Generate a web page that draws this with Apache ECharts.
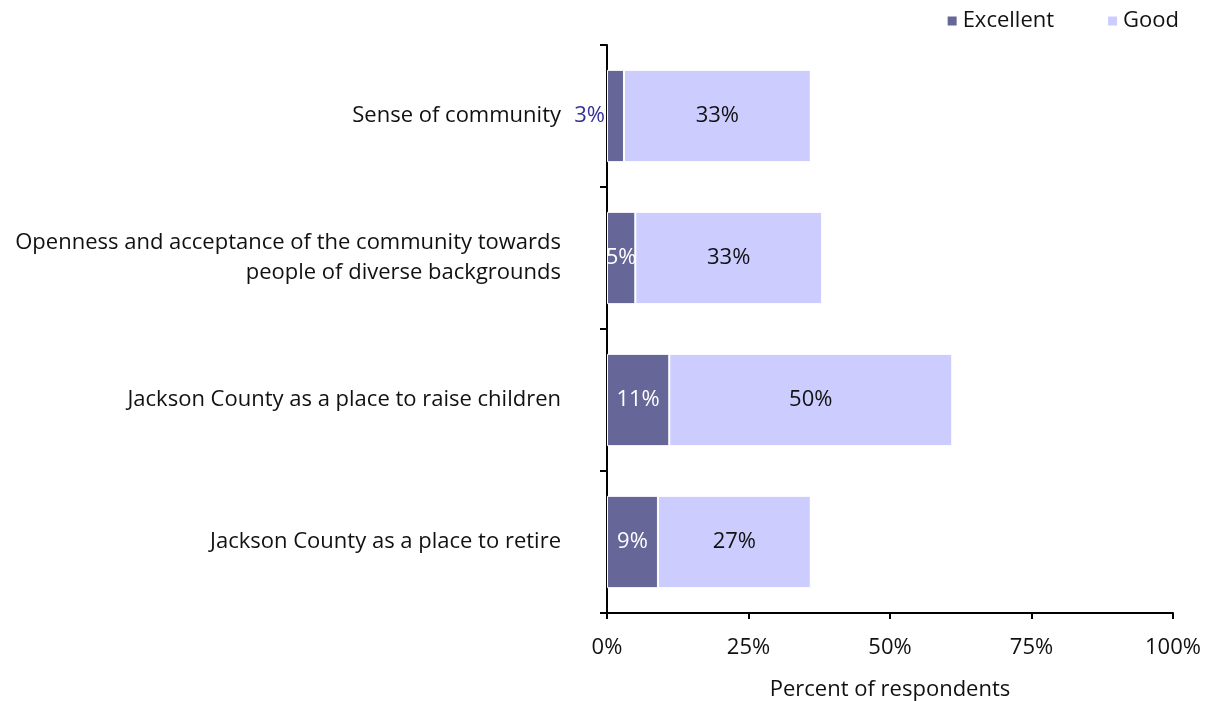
<!DOCTYPE html>
<html>
<head>
<meta charset="utf-8">
<script src="https://cdn.jsdelivr.net/npm/echarts@6/dist/echarts.min.js"></script>
<style>
  html, body { margin: 0; padding: 0; background: #fff; }
  #chart { width: 1213px; height: 701px; }
</style>
</head>
<body>
<div id="chart"></div>
<script>
// Survey ratings, top to bottom
const categories = [
  'Sense of community',
  'Openness and acceptance of the community towards\npeople of diverse backgrounds',
  'Jackson County as a place to raise children',
  'Jackson County as a place to retire'
];
const excellent = [3, 5, 11, 9];
const good = [33, 33, 50, 27];
const xTicks = [0, 25, 50, 75, 100];

const FONT = '"Open Sans", "DejaVu Sans", sans-serif';

const chart = echarts.init(document.getElementById('chart'));

// Small excellent shares get their label placed outside, left of the axis
const excellentData = excellent.map(v => {
  if (v < 4) {
    return { value: v, label: { position: 'left', color: '#333399', distance: 2 } };
  }
  return v;
});

chart.setOption({
  animation: false,
  textStyle: { fontFamily: FONT },
  legend: {
    top: 5,
    right: 29,
    itemWidth: 11,
    itemHeight: 11,
    itemGap: 52,
    icon: 'rect',
    textStyle: { fontSize: 22, color: '#111', fontFamily: FONT },
    data: ['Excellent', 'Good']
  },
  grid: {
    left: 607, right: 40, top: 45, bottom: 88,
    containLabel: false,
    outerBoundsMode: 'none'
  },
  xAxis: {
    type: 'value',
    min: 0,
    max: 100,
    interval: 25,
    name: 'Percent of respondents',
    nameLocation: 'middle',
    nameGap: 66,
    nameTextStyle: { fontSize: 22, color: '#111', fontFamily: FONT },
    axisLine: { show: true, lineStyle: { color: '#000', width: 2 } },
    axisTick: { show: true, length: 6, lineStyle: { color: '#000', width: 2 } },
    axisLabel: {
      fontSize: 22, color: '#111', margin: 24, fontFamily: FONT,
      formatter: v => xTicks.includes(v) ? v + '%' : ''
    },
    splitLine: { show: false }
  },
  yAxis: {
    type: 'category',
    inverse: true,
    data: categories,
    axisLine: { show: true, lineStyle: { color: '#000', width: 2 } },
    axisTick: { show: true, length: 7, lineStyle: { color: '#000', width: 2 } },
    axisLabel: {
      fontSize: 22, color: '#111', margin: 46, align: 'right',
      lineHeight: 30, fontFamily: FONT
    },
    splitLine: { show: false }
  },
  series: [
    {
      name: 'Excellent',
      type: 'bar',
      stack: 'total',
      barCategoryGap: '35%',
      data: excellentData,
      itemStyle: { color: '#666699', borderColor: '#fff', borderWidth: 1 },
      label: {
        show: true,
        position: 'inside',
        color: '#fff',
        fontSize: 22,
        fontFamily: FONT,
        formatter: p => p.value + '%'
      }
    },
    {
      name: 'Good',
      type: 'bar',
      stack: 'total',
      data: good,
      itemStyle: { color: '#CCCCFF', borderColor: '#fff', borderWidth: 1 },
      label: {
        show: true,
        position: 'inside',
        color: '#111',
        fontSize: 22,
        fontFamily: FONT,
        formatter: p => p.value + '%'
      }
    }
  ]
});
</script>
</body>
</html>
